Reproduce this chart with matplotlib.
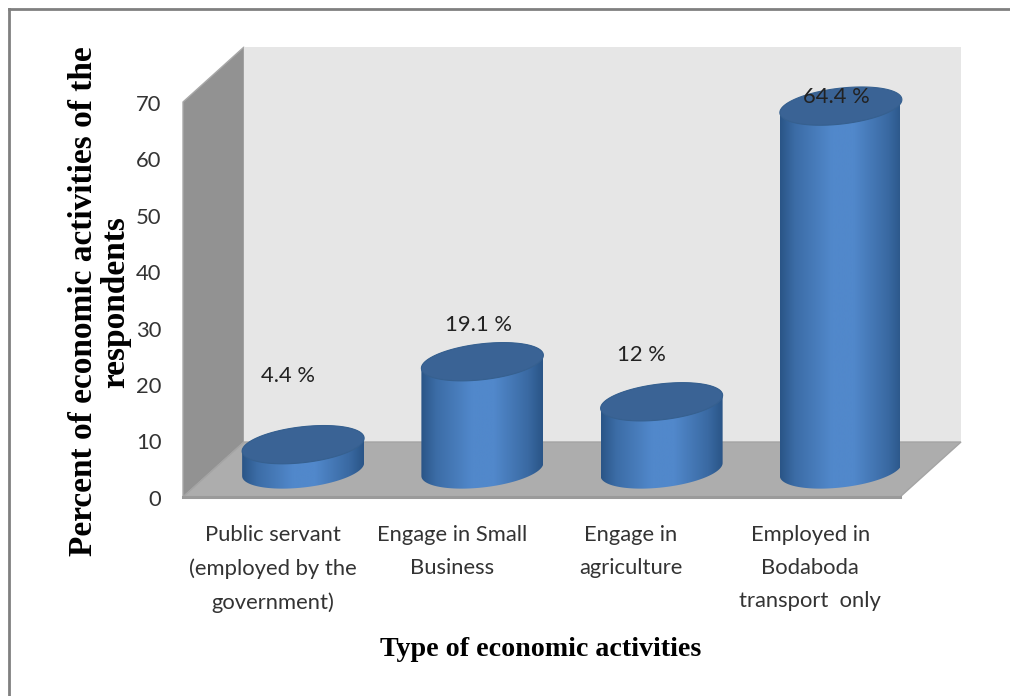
import numpy as np
from matplotlib import pyplot as plt
from matplotlib.patches import Polygon
from matplotlib.lines import Line2D

categories = ["Public servant\n(employed by the\ngovernment)", "Engage in Small\nBusiness",
              "Engage in\nagriculture", "Employed in\nBodaboda\ntransport  only"]
values = [4.4, 19.1, 12, 64.4]
value_labels = ["4.4 %", "19.1 %", "12 %", "64.4 %"]
yticks = [0, 10, 20, 30, 40, 50, 60, 70]

# where the value labels sit, in axes data units
LABEL_X = [0.586, 1.646, 2.555, 3.643]
LABEL_Y = [21.4, 30.5, 25.1, 70.8]

W, H = 1010, 696
DEPTH_X = 61 / 179.25   # wall depth, in category units
DEPTH_Y = 55 / 5.643    # wall depth, in value units
RX = 61 / 179.25        # cylinder half width
RY = 18 / 5.643
TILT = 6.5 / 5.643
LABEL_FONT = "Lato"

fig = plt.figure(figsize=(W / 100, H / 100), dpi=100, facecolor="white")
ax = fig.add_axes([183 / W, 1 - 497 / H, 717 / W, 395 / H])
ax.axis("off")

# walls and floor
ax.add_patch(Polygon([(0, 0), (DEPTH_X, DEPTH_Y), (DEPTH_X, 70 + DEPTH_Y), (0, 70)],
                     fc="#929292", ec="#a8a8a8", lw=1, clip_on=False, zorder=1))
ax.add_patch(Polygon([(DEPTH_X, DEPTH_Y), (4 + DEPTH_X, DEPTH_Y), (4 + DEPTH_X, 70 + DEPTH_Y), (DEPTH_X, 70 + DEPTH_Y)],
                     fc="#e6e6e6", ec="none", clip_on=False, zorder=1))
ax.add_patch(Polygon([(0, 0), (4, 0), (4 + DEPTH_X, DEPTH_Y), (DEPTH_X, DEPTH_Y)],
                     fc="#adadad", ec="#a4a4a4", lw=1, clip_on=False, zorder=2))
ax.plot([0, 4], [0, 0], color="#9a9a9a", lw=2.2, clip_on=False, zorder=2)

t = np.linspace(0, 2 * np.pi, 200)
grad = np.interp(np.linspace(0, 1, 256), [0, 0.12, 0.42, 0.6, 0.88, 1], [0, 0.45, 1, 1, 0.4, 0])
colors = np.array([[0x2a, 0x55, 0x87], [0x51, 0x88, 0xcb]]) / 255
img = (colors[0] + (colors[1] - colors[0]) * grad[:, None])[None, :, :]

for i, v in enumerate(values):
    cx = i + 0.5 + DEPTH_X / 2
    base = DEPTH_Y / 2
    top = base + v
    # body outline: lower half of the base ellipse, upper half of the top one
    lo = np.linspace(np.pi, 2 * np.pi, 80)
    up = np.linspace(0, np.pi, 80)
    bx = cx + RX * np.cos(lo)
    by = base + RY * np.sin(lo) + TILT * np.cos(lo)
    tx = cx + RX * np.cos(up)
    ty = top + RY * np.sin(up) + TILT * np.cos(up)
    body = Polygon(np.c_[np.r_[bx, tx], np.r_[by, ty]], fc="none", ec="none", clip_on=False, zorder=3)
    ax.add_patch(body)
    im = ax.imshow(img, extent=[cx - RX, cx + RX, base - RY - 2, top + RY + 2], aspect="auto", zorder=3)
    im.set_clip_path(body)
    ex = cx + RX * np.cos(t)
    ey = top + RY * np.sin(t) + TILT * np.cos(t)
    ax.add_patch(Polygon(np.c_[ex, ey], fc="#3a6395", ec="#36608f", lw=0.8, clip_on=False, zorder=5))
    ax.text(LABEL_X[i], LABEL_Y[i], value_labels[i], ha="center", va="center",
            fontsize=15.8, family=LABEL_FONT, color="#222222", zorder=6, clip_on=False)
    ax.text(i + 0.5, -5.0, categories[i], ha="center", va="top",
            fontsize=15.8, family=LABEL_FONT, color="#333333", linespacing=1.8, clip_on=False, zorder=6)

ax.set_xlim(0, 4)
ax.set_ylim(0, 70)
for y in yticks:
    ax.text(-0.12, y - 0.5, str(y), ha="right", va="center", fontsize=15.8, family=LABEL_FONT,
            color="#333333", clip_on=False)

fig.text(84 / W, 1 - 301 / H, "Percent of economic activities of the", rotation=90, ha="center", va="center",
         fontsize=24, family="Liberation Serif", weight="bold", color="black")
fig.text(116 / W, 1 - 302 / H, "respondents", rotation=90, ha="center", va="center",
         fontsize=24, family="Liberation Serif", weight="bold", color="black")
fig.text(541 / W, 1 - 649 / H, "Type of economic activities", ha="center", va="center",
         fontsize=20.2, family="Liberation Serif", weight="bold", color="black")

# frame of the original screenshot
fig.add_artist(Line2D([9 / W, 9 / W], [0, 1 - 9 / H], color="#808080", lw=2))
fig.add_artist(Line2D([9 / W, 1], [1 - 9 / H, 1 - 9 / H], color="#808080", lw=2))

fig.savefig("out.png", dpi=100)
